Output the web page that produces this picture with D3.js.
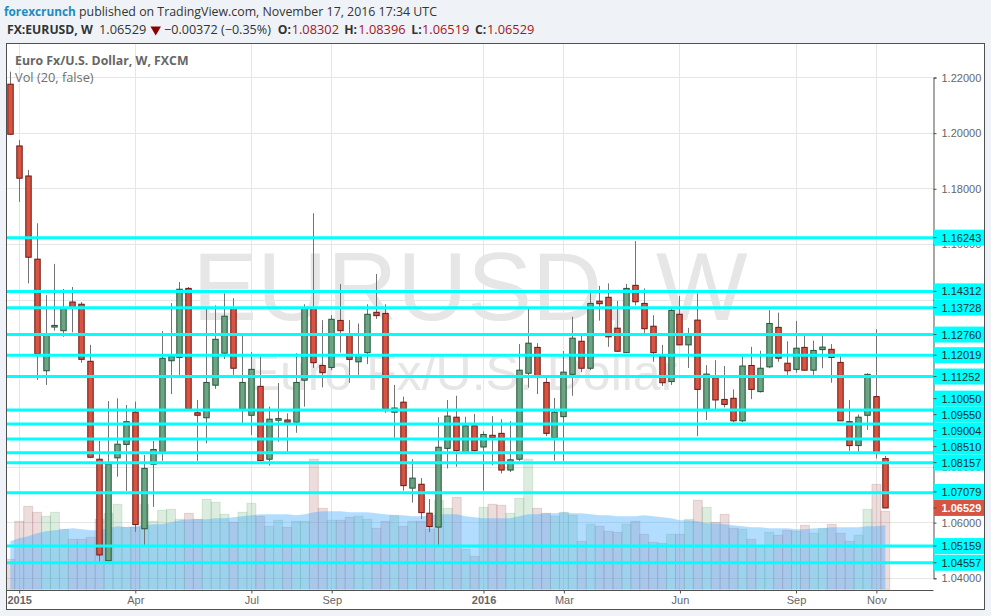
<!DOCTYPE html>
<html>
<head>
<meta charset="utf-8">
<style>
  html, body { margin: 0; padding: 0; background: #eff3f7; }
  svg { display: block; }
</style>
<script src="https://cdn.jsdelivr.net/npm/d3@7"></script>
</head>
<body>
<svg id="chart"></svg>
<script>
var width = 991;
var height = 616;

var plot = { left: 6.5, right: 933.5, top: 43.5, bottom: 590.5, outerRight: 984.5, outerBottom: 609.5 };

// weekly candles
var opens = [1.2176,1.1954,1.1846,1.1547,1.1146,1.1303,1.1290,1.1393,1.1385,1.1180,
  1.0828,1.0463,1.0833,1.0881,1.0997,1.0578,1.0810,1.0855,1.1182,1.1194,
  1.1442,1.0995,1.0977,1.1094,1.1209,1.1372,1.1008,1.0986,1.1090,1.0828,
  1.0968,1.0969,1.0961,1.1112,1.1372,1.1165,1.1158,1.1327,1.1275,1.1178,
  1.1211,1.1356,1.1352,1.0997,1.1033,1.0724,1.0738,1.0634,1.0584,1.0867,
  1.0979,1.0850,1.0948,1.0872,1.0914,1.0921,1.0789,1.0828,1.1137,1.1230,
  1.1104,1.0905,1.0981,1.1133,1.1252,1.1155,1.1396,1.1410,1.1299,1.1211,
  1.1453,1.1388,1.1306,1.1197,1.1107,1.1349,1.1239,1.1328,1.1008,1.1121,
  1.1043,1.1047,1.0966,1.1165,1.1071,1.1160,1.1302,1.1173,1.1151,1.1230,
  1.1148,1.1222,1.1223,1.1176,1.0963,1.0877,1.0986,1.1053,1.08302];

var highs = [1.2221,1.1975,1.1868,1.1676,1.1418,1.1530,1.1440,1.1447,1.1393,1.1239,
  1.0894,1.1037,1.1047,1.1023,1.1035,1.0843,1.0894,1.1289,1.1389,1.1465,
  1.1447,1.1041,1.1372,1.1381,1.1424,1.1407,1.1272,1.1213,1.1197,1.1017,
  1.1102,1.0993,1.1209,1.1385,1.1712,1.1328,1.1346,1.1458,1.1328,1.1316,
  1.1385,1.1494,1.1385,1.1095,1.1053,1.0828,1.0760,1.0685,1.0979,1.1041,
  1.1056,1.0981,1.0991,1.0928,1.0983,1.0972,1.0965,1.1242,1.1368,1.1245,
  1.1122,1.1048,1.1217,1.1340,1.1272,1.1425,1.1451,1.1460,1.1397,1.1458,
  1.1612,1.1442,1.1346,1.1239,1.1368,1.1415,1.1300,1.1424,1.1166,1.1184,
  1.1163,1.1079,1.1197,1.1232,1.1218,1.1364,1.1355,1.1252,1.1325,1.1272,
  1.1254,1.1272,1.1242,1.1197,1.1041,1.0989,1.1137,1.1295,1.08396];

var lows = [1.1993,1.1753,1.1460,1.1113,1.1095,1.1290,1.1268,1.1284,1.1175,1.0832,
  1.0459,1.0462,1.0765,1.0714,1.0567,1.0520,1.0657,1.0822,1.1062,1.1131,
  1.1004,1.0822,1.0885,1.1081,1.1188,1.1131,1.0958,1.0915,1.0822,1.0805,
  1.0891,1.0855,1.0923,1.1017,1.1156,1.1086,1.1148,1.1211,1.1103,1.1131,
  1.1170,1.1332,1.0995,1.0905,1.0715,1.0672,1.0613,1.0566,1.0520,1.0795,
  1.0801,1.0849,1.0855,1.0715,1.0806,1.0777,1.0782,1.0822,1.1085,1.1062,
  1.0911,1.0823,1.0822,1.1056,1.1141,1.1148,1.1326,1.1232,1.1215,1.1210,
  1.1381,1.1281,1.1178,1.1091,1.1095,1.1239,1.1156,1.0911,1.0969,1.1008,
  1.1014,1.0961,1.0961,1.1044,1.1068,1.1155,1.1178,1.1131,1.1139,1.1146,
  1.1131,1.1155,1.1103,1.0965,1.0858,1.0855,1.0933,1.0831,1.06519];

var closes = [1.1996,1.1838,1.1554,1.1206,1.1278,1.1309,1.1372,1.1373,1.1187,1.0835,
  1.0484,1.0811,1.0882,1.0963,1.0593,1.0795,1.0863,1.1191,1.1197,1.1439,
  1.1008,1.0986,1.1104,1.1259,1.1342,1.1155,1.1104,1.1151,1.0823,1.0972,
  1.0974,1.0961,1.1104,1.1370,1.1175,1.1139,1.1331,1.1290,1.1187,1.1203,
  1.1349,1.1344,1.1008,1.1012,1.0733,1.0760,1.0636,1.0586,1.0871,1.0983,
  1.0859,1.0948,1.0859,1.0917,1.0906,1.0789,1.0826,1.1148,1.1245,1.1125,
  1.0921,1.0997,1.1141,1.1263,1.1155,1.1388,1.1387,1.1268,1.1216,1.1442,
  1.1394,1.1297,1.1211,1.1103,1.1363,1.1239,1.1272,1.1079,1.1134,1.1041,
  1.1025,1.0966,1.1163,1.1079,1.1155,1.1316,1.1191,1.1146,1.1227,1.1148,
  1.1219,1.1231,1.1194,1.0966,1.0877,1.0979,1.1133,1.0849,1.06529];

// volume has no scale in the picture, so these are relative units
var volumes = [30,68,83,77,73,77,60,50,50,52,
  70,76,85,62,62,85,68,79,80,70,
  76,70,90,87,75,67,77,86,73,63,
  69,62,68,68,130,81,69,69,72,73,
  70,61,68,74,63,68,68,60,89,81,
  92,40,33,82,85,84,76,91,130,81,
  76,73,77,74,48,65,63,58,57,65,
  68,55,47,46,55,55,70,89,82,67,
  75,61,60,50,44,57,54,59,58,64,
  56,61,65,56,48,54,80,105,78];

var volumeMa = [48,51,53,56,58,59,60,61,60,59,
  59,61,63,62,63,64,65,65,67,69,
  70,70,70,71,71,72,73,74,75,75,
  75,75,74,75,77,78,78,78,77,77,
  77,76,75,74,74,73,73,74,75,75,
  75,73,72,71,71,71,71,73,75,75,
  76,76,77,76,76,75,74,74,73,73,
  73,74,73,72,71,69,69,68,66,66,
  65,64,63,62,62,61,61,61,60,60,
  61,61,62,62,62,62,63,63,64];

var levels = [1.16243,1.14312,1.13728,1.12760,1.12019,1.11252,1.10050,1.09550,
  1.09004,1.08510,1.08157,1.07079,1.05159,1.04557];
var lastPrice = 1.06529;

var priceTicks = [1.04,1.06,1.08,1.10,1.12,1.14,1.16,1.18,1.20,1.22];
// these three sit completely behind the level labels
var coveredTicks = [1.10,1.12,1.14];
var timeTicks = [1,14,27,36,53,62,75,88,97];
var timeLabels = ["2015","Apr","Jul","Sep","2016","Mar","Jun","Sep","Nov"];

var priceFont = "'Liberation Sans', Arial, sans-serif";
var headFont = "'Open Sans', sans-serif";

var svg = d3.select("#chart").attr("width", width).attr("height", height);

var xScale = d3.scaleLinear()
.domain([0, opens.length - 1])
.range([10.3, 885.3]);

var yScale = d3.scaleLinear()
.domain([1.04, 1.22])
.range([578.3, 77.5]);

var volScale = d3.scaleLinear()
.domain([0, 130])
.range([589.3, 459.3]);

var barWidth = xScale(1) - xScale(0);
var snap = function(v) {return Math.floor(v) + 0.5;};

svg.append("rect")
.attr("x", plot.left).attr("y", plot.top)
.attr("width", plot.outerRight - plot.left)
.attr("height", plot.outerBottom - plot.top)
.attr("fill", "#fff");

svg.append("clipPath").attr("id", "plotClip")
.append("rect")
.attr("x", plot.left).attr("y", plot.top)
.attr("width", plot.right - plot.left)
.attr("height", plot.bottom - plot.top);

var chart = svg.append("g").attr("clip-path", "url(#plotClip)");

// grid
chart.append("g").selectAll("line")
.data(priceTicks)
.enter()
.append("line")
.attr("x1", plot.left).attr("x2", plot.right)
.attr("y1", function(d) {return snap(yScale(d));})
.attr("y2", function(d) {return snap(yScale(d));})
.attr("stroke", "#e6e6e6");

chart.append("g").selectAll("line")
.data(timeTicks)
.enter()
.append("line")
.attr("x1", function(d) {return snap(xScale(d));})
.attr("x2", function(d) {return snap(xScale(d));})
.attr("y1", plot.top).attr("y2", plot.bottom)
.attr("stroke", "#e6e6e6");

// watermark
chart.append("text")
.attr("x", 470).attr("y", 320)
.attr("text-anchor", "middle")
.attr("font-family", priceFont)
.attr("font-size", 97)
.attr("fill", "#e6e6e6")
.text("EURUSD, W");

chart.append("text")
.attr("x", 462).attr("y", 390)
.attr("text-anchor", "middle")
.attr("font-family", priceFont)
.attr("font-size", 50)
.attr("fill", "#e6e6e6")
.text("Euro Fx/U.S. Dollar");

// volume
chart.append("g").selectAll("rect")
.data(volumes)
.enter()
.append("rect")
.attr("x", function(d, i) {return xScale(i) - barWidth / 2;})
.attr("y", function(d) {return volScale(d);})
.attr("width", barWidth)
.attr("height", function(d) {return volScale(0) - volScale(d);})
.attr("fill", function(d, i) {return closes[i] >= opens[i] ? "rgba(80,160,95,0.2)" : "rgba(160,80,80,0.2)";})
.attr("stroke", function(d, i) {return closes[i] >= opens[i] ? "rgba(80,160,95,0.2)" : "rgba(160,80,80,0.2)";});

var maArea = d3.area()
.x(function(d, i) {return xScale(i);})
.y0(volScale(0))
.y1(function(d) {return volScale(d);});

chart.append("path")
.datum(volumeMa)
.attr("d", maArea)
.attr("fill", "rgba(65,170,255,0.4)");

// candles
var candle = chart.append("g").selectAll("g")
.data(opens)
.enter()
.append("g");

candle.append("line")
.attr("x1", function(d, i) {return snap(xScale(i));})
.attr("x2", function(d, i) {return snap(xScale(i));})
.attr("y1", function(d, i) {return yScale(highs[i]);})
.attr("y2", function(d, i) {return yScale(lows[i]);})
.attr("stroke", "#737375");

candle.append("rect")
.attr("x", function(d, i) {return snap(xScale(i)) - 2.7;})
.attr("y", function(d, i) {return yScale(Math.max(d, closes[i]));})
.attr("width", 5.4)
.attr("height", function(d, i) {return Math.max(Math.abs(yScale(d) - yScale(closes[i])), 0.5);})
.attr("fill", function(d, i) {return closes[i] >= d ? "#6ba583" : "#d75442";})
.attr("stroke", function(d, i) {return closes[i] >= d ? "#225437" : "#6b1710";});

// horizontal levels
chart.append("g").selectAll("line")
.data(levels)
.enter()
.append("line")
.attr("x1", plot.left).attr("x2", plot.right)
.attr("y1", function(d) {return yScale(d);})
.attr("y2", function(d) {return yScale(d);})
.attr("stroke", "#00ffff")
.attr("stroke-width", 3);

// frame
svg.append("rect")
.attr("x", plot.left).attr("y", plot.top)
.attr("width", plot.outerRight - plot.left)
.attr("height", plot.outerBottom - plot.top)
.attr("fill", "none")
.attr("stroke", "#505050");

// axes
var yAxis = svg.append("g")
.attr("transform", `translate(${plot.right},0)`)
.call(d3.axisRight()
      .scale(yScale)
      .tickValues(priceTicks)
      .tickSize(3)
      .tickPadding(5)
      .tickFormat(function(d) {return coveredTicks.indexOf(d) >= 0 ? "" : d3.format(".5f")(d);}));

yAxis.selectAll("text").attr("font-family", priceFont).attr("font-size", 11).attr("fill", "#666");
yAxis.selectAll("line").attr("stroke", "#505050");
yAxis.select(".domain").attr("stroke", "#505050");

var xAxis = svg.append("g")
.attr("transform", `translate(0,${plot.bottom})`)
.call(d3.axisBottom()
      .scale(xScale)
      .tickValues(timeTicks)
      .tickSize(3)
      .tickPadding(3)
      .tickFormat(function(d, i) {return timeLabels[i];}));

xAxis.select(".domain").attr("d", `M${plot.left},0H${plot.right}`).attr("stroke", "#505050");
xAxis.selectAll("line").attr("stroke", "#505050");
xAxis.selectAll("text")
.attr("font-family", priceFont)
.attr("font-size", 11)
.attr("fill", "#666")
.attr("font-weight", function(d, i) {return timeLabels[i].length == 4 ? "bold" : "normal";});

// price labels, pushed upwards where they would overlap
var labelData = levels.concat([lastPrice]).sort(d3.ascending).map(function(d) {
  return {price: d, y: yScale(d)};
});
labelData.forEach(function(d, i) {
  if (i > 0 && d.y > labelData[i - 1].y - 16) d.y = labelData[i - 1].y - 16;
});

var label = svg.append("g").selectAll("g")
.data(labelData)
.enter()
.append("g")
.attr("transform", function(d) {return `translate(${plot.right},${d.y})`;});

label.append("rect")
.attr("x", 0.5).attr("y", -8)
.attr("width", plot.outerRight - plot.right - 1)
.attr("height", 16)
.attr("fill", function(d) {return d.price == lastPrice ? "#d75442" : "#00ffff";});

label.append("line")
.attr("x1", 0).attr("x2", 3)
.attr("stroke", "#505050");

label.append("text")
.attr("x", 8).attr("y", 4)
.attr("font-family", priceFont)
.attr("font-size", 11)
.attr("font-weight", function(d) {return d.price == lastPrice ? "bold" : "normal";})
.attr("fill", function(d) {return d.price == lastPrice ? "#fff" : "#1c2b2b";})
.text(function(d) {return d3.format(".5f")(d.price);});

// header
var addHead = function(x, y, size, weight, color, str) {
  svg.append("text")
  .attr("x", x).attr("y", y)
  .attr("font-family", headFont)
  .attr("font-size", size)
  .attr("font-weight", weight)
  .attr("fill", color)
  .text(str);
};

addHead(4, 16, 11.8, "bold", "#1c8cc0", "forexcrunch");
addHead(79, 16, 12.36, "normal", "#333", "published on TradingView.com, November 17, 2016 17:34 UTC");

addHead(7, 34, 12.2, "bold", "#333", "FX:EURUSD, W");
addHead(99, 34, 12.8, "normal", "#333", "1.06529");
addHead(164, 34, 12.6, "normal", "#333", "−0.00372 (−0.35%)");

svg.append("path")
.attr("d", d3.symbol().type(d3.symbolTriangle).size(48))
.attr("transform", "translate(155.7,29.5) rotate(180)")
.attr("fill", "#8b0000");

var ohlcLabels = ["O:", "H:", "L:", "C:"];
var ohlcValues = ["1.08302", "1.08396", "1.06519", "1.06529"];
var ohlcLabelX = [277.7, 344.3, 411.3, 475];
var ohlcValueX = [291.7, 358.3, 422, 487];
ohlcLabels.forEach(function(d, i) {
  addHead(ohlcLabelX[i], 34, 12.2, "bold", "#333", d);
  addHead(ohlcValueX[i], 34, 12.8, "normal", "#a9141b", ohlcValues[i]);
});

// chart legend
addHead(15, 65, 12.3, "bold", "#666", "Euro Fx/U.S. Dollar, W, FXCM");
addHead(15, 82, 12.8, "normal", "#707070", "Vol (20, false)");
</script>
</body>
</html>
